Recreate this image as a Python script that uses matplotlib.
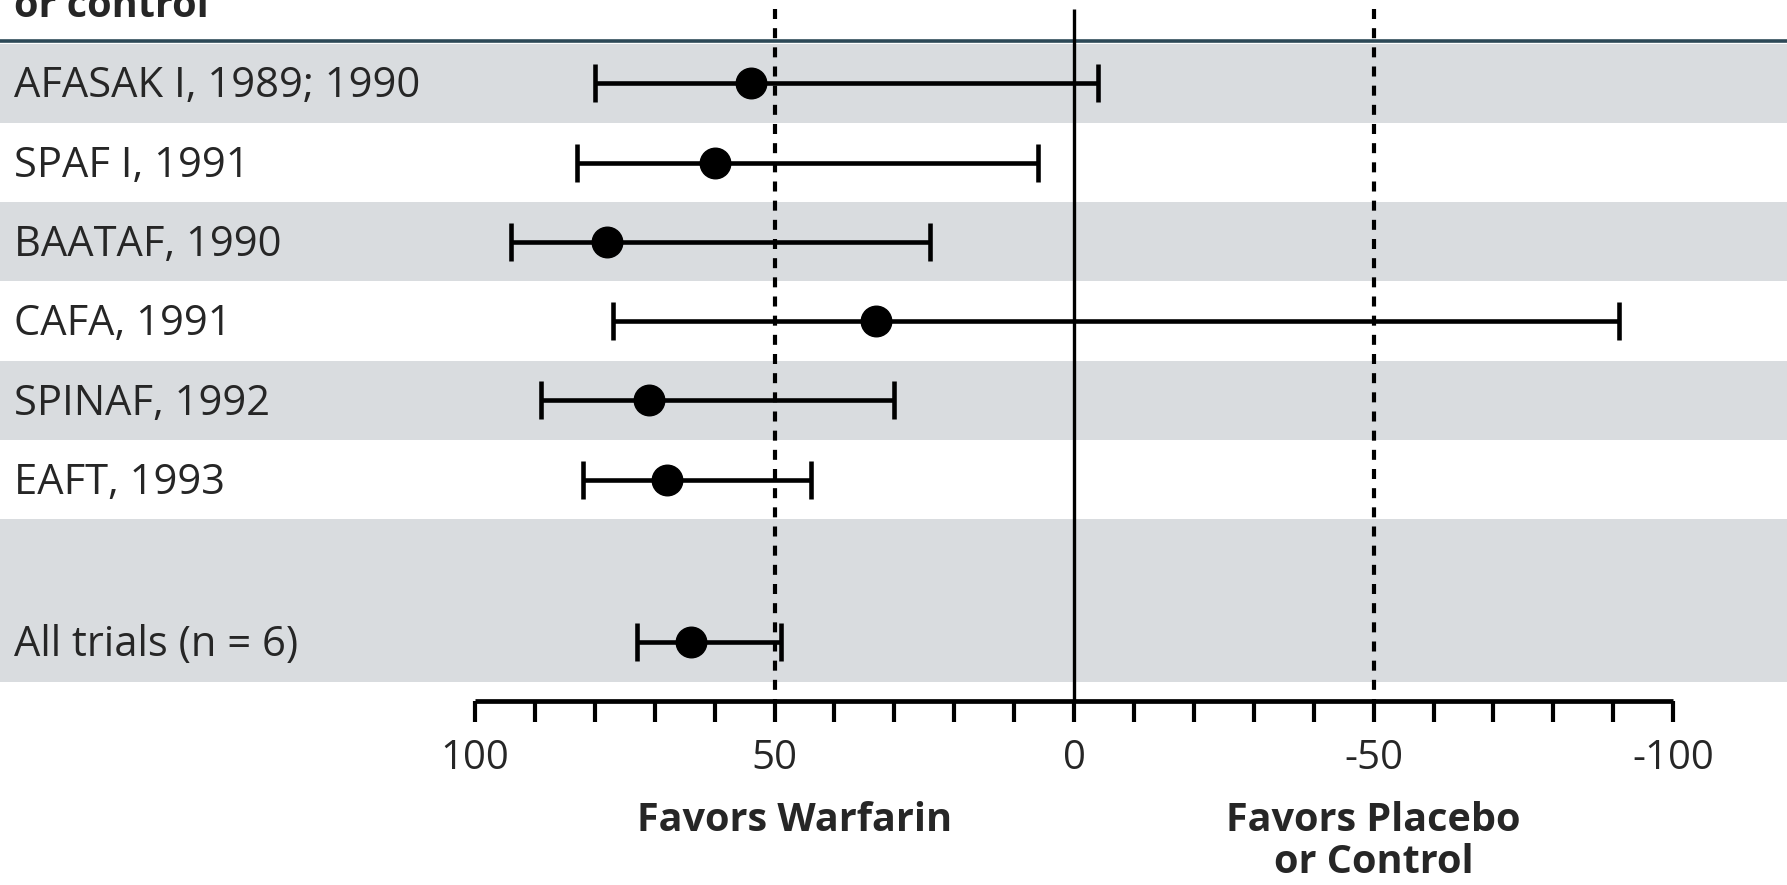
import numpy as np
import matplotlib.pyplot as plt

plt.rcParams['font.family'] = ['Open Sans', 'DejaVu Sans']

# relative risk reduction (%) with 95% CI, one row per trial
trials = ['AFASAK I, 1989; 1990', 'SPAF I, 1991', 'BAATAF, 1990',
          'CAFA, 1991', 'SPINAF, 1992', 'EAFT, 1993', 'All trials (n = 6)']
rrr = [54, 60, 78, 33, 71, 68, 64]
ci_low = [-4, 6, 24, -91, 30, 44, 49]
ci_high = [80, 83, 94, 77, 89, 82, 73]
row_pos = [0, 1, 2, 3, 4, 5, 7.05]

tick_vals = np.arange(-100, 101, 10)
tick_labels = {100: '100', 50: '50', 0: '0', -50: '-50', -100: '-100'}

fig = plt.figure(figsize=(17.87, 8.85), dpi=100)
ax = fig.add_axes([0, 0, 1, 1])
ax.set_xlim(179.3, -119.0)
ax.set_ylim(10.11, -1.049)
ax.axis('off')

band = '#d9dcdf'
txt = '#262626'
# alternating row shading, the last band covers the blank row and the pooled row
for i in [0, 2, 4]:
    ax.axhspan(i - 0.5, i + 0.5, color=band, lw=0, zorder=0)
ax.axhspan(5.5, 7.55, color=band, lw=0, zorder=0)

ax.axhline(-0.53, color='#2d4957', lw=2.6, zorder=1)

ax_y = 7.79
ax.vlines(0, -0.94, ax_y, color='black', lw=2.4, zorder=2)
ax.vlines([50, -50], -0.94, ax_y, color='black', lw=3.0,
          linestyles=(0, (2.4, 2.2)), zorder=2)

for y, name in zip(row_pos, trials):
    ax.text(179.3 - 2.3, y + 0.04, name, ha='left', va='center', fontsize=30,
            color=txt)

rrr_a = np.array(rrr)
xerr = [rrr_a - np.array(ci_low), np.array(ci_high) - rrr_a]
ax.errorbar(rrr, row_pos, xerr=xerr, fmt='o', color='black',
            ms=22, lw=3.3, capsize=14, capthick=3.3, zorder=3)

# bottom scale
ax.hlines(ax_y, 100, -100, color='black', lw=3.4, zorder=2)
ax.vlines(tick_vals, ax_y, ax_y + 0.26, color='black', lw=3.0, zorder=2)
for v, s in tick_labels.items():
    ax.text(v, 8.52, s, ha='center', va='center', fontsize=29, color=txt)

ax.text(46.7, 9.3, 'Favors Warfarin', ha='center', va='center',
        fontsize=28.5, fontweight='bold', color=txt)
ax.text(-50, 9.3, 'Favors Placebo', ha='center', va='center',
        fontsize=28.5, fontweight='bold', color=txt)
ax.text(-50, 9.83, 'or Control', ha='center', va='center',
        fontsize=28.5, fontweight='bold', color=txt)

ax.text(179.3 - 2.3, -0.835, 'or control', ha='left', va='baseline',
        fontsize=28.5, fontweight='bold', color=txt)

fig.savefig('out.png', dpi=100)
